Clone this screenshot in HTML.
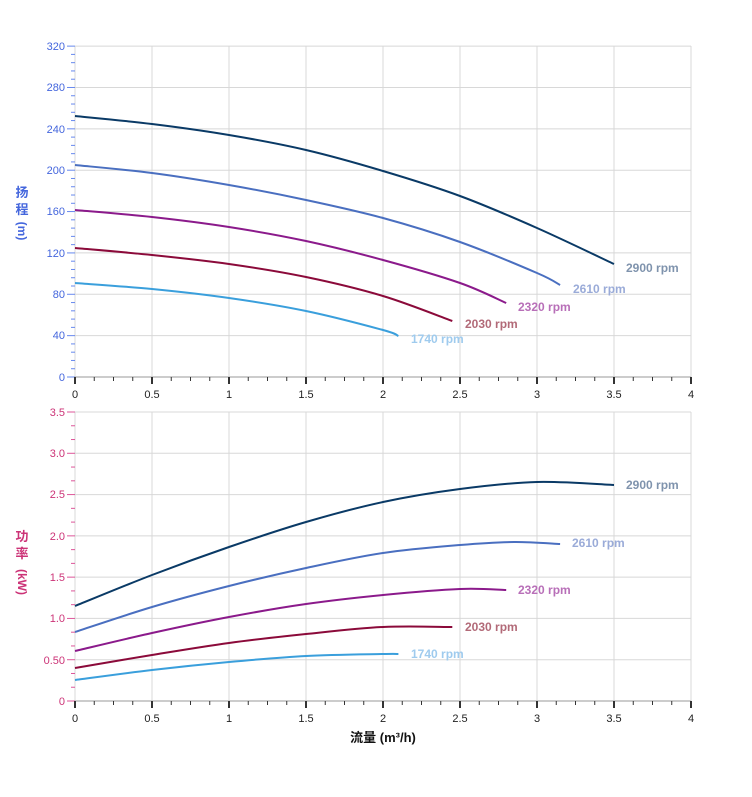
<!DOCTYPE html>
<html><head><meta charset="utf-8"><style>
body{margin:0;background:#fff}
svg{display:block;font-family:"Liberation Sans","Noto Sans CJK SC",sans-serif}
</style></head><body>
<svg id="s" width="752" height="797" viewBox="0 0 752 797" xmlns="http://www.w3.org/2000/svg">
<g id="grid" stroke="#d8d8d8" stroke-width="1"></g>
<g id="ticks"></g>
<g font-size="11" fill="#4466dd" text-anchor="end">
<text x="65" y="50">320</text><text x="65" y="91">280</text><text x="65" y="133">240</text><text x="65" y="174">200</text><text x="65" y="215">160</text><text x="65" y="257">120</text><text x="65" y="298">80</text><text x="65" y="339">40</text><text x="65" y="381">0</text>
</g>
<g font-size="11" fill="#cc3377" text-anchor="end">
<text x="65" y="416">3.5</text><text x="65" y="457">3.0</text><text x="65" y="498">2.5</text><text x="65" y="540">2.0</text><text x="65" y="581">1.5</text><text x="65" y="622">1.0</text><text x="65" y="664">0.50</text><text x="65" y="705">0</text>
</g>
<g font-size="11" fill="#222" text-anchor="middle">
<text x="75" y="398">0</text><text x="152" y="398">0.5</text><text x="229" y="398">1</text><text x="306" y="398">1.5</text><text x="383" y="398">2</text><text x="460" y="398">2.5</text><text x="537" y="398">3</text><text x="614" y="398">3.5</text><text x="691" y="398">4</text>
<text x="75" y="722">0</text><text x="152" y="722">0.5</text><text x="229" y="722">1</text><text x="306" y="722">1.5</text><text x="383" y="722">2</text><text x="460" y="722">2.5</text><text x="537" y="722">3</text><text x="614" y="722">3.5</text><text x="691" y="722">4</text>
</g>
<text x="383" y="742" font-size="13" font-weight="bold" fill="#111" text-anchor="middle">流量 (m³/h)</text>
<g font-size="13" font-weight="bold" fill="#4466dd" text-anchor="middle">
<text x="22" y="197">扬</text><text x="22" y="214">程</text>
<text transform="translate(18,231) rotate(90)" font-size="12" text-anchor="middle">(m)</text>
</g>
<g font-size="13" font-weight="bold" fill="#cc3377" text-anchor="middle">
<text x="22" y="541">功</text><text x="22" y="558">率</text>
<text transform="translate(18,582) rotate(90)" font-size="12" text-anchor="middle">(kW)</text>
</g>
<g fill="none" stroke-width="2" stroke-linejoin="round" stroke-linecap="round">
<path id="c1" stroke="#0a3a66" d=""/>
</g>
<g id="curves" fill="none" stroke-width="2"></g>
<g font-size="12" font-weight="bold">
<text x="626" y="272" fill="#7f93ad">2900 rpm</text>
<text x="573" y="293" fill="#9aabd8">2610 rpm</text>
<text x="518" y="311" fill="#b86fb8">2320 rpm</text>
<text x="465" y="328" fill="#b26a78">2030 rpm</text>
<text x="411" y="343" fill="#9fcbee">1740 rpm</text>
<text x="626" y="489" fill="#7f93ad">2900 rpm</text>
<text x="572" y="547" fill="#9aabd8">2610 rpm</text>
<text x="518" y="594" fill="#b86fb8">2320 rpm</text>
<text x="465" y="631" fill="#b26a78">2030 rpm</text>
<text x="411" y="658" fill="#9fcbee">1740 rpm</text>
</g>
</svg>
<script>
var NS="http://www.w3.org/2000/svg",g=document.getElementById('grid'),t=document.getElementById('ticks'),cv=document.getElementById('curves');
function L(p,x1,y1,x2,y2,c,w){var l=document.createElementNS(NS,'line');l.setAttribute('x1',x1);l.setAttribute('y1',y1);l.setAttribute('x2',x2);l.setAttribute('y2',y2);if(c)l.setAttribute('stroke',c);if(w)l.setAttribute('stroke-width',w);p.appendChild(l);}
function X(v){return 75+154*v}
for(var i=0;i<=8;i++){L(g,X(i/2),46,X(i/2),377);L(g,X(i/2),412,X(i/2),701);}
for(var i=0;i<=8;i++){var y=377-i*40*1.034;L(g,75,y,691,y);}
for(var i=0;i<=7;i++){var y=701-i*0.5*82.57;L(g,75,y,691,y);}
L(g,75,377,691,377,'#ccc',2);L(g,75,701,691,701,'#ccc',2);
for(var i=0;i<=40;i++){var y=377-i*8*1.034;L(t,i%5?71:67,y,75,y,'#6688ee',1);}
for(var i=0;i<=21;i++){var y=701-i*(0.5/3)*82.57;L(t,i%3?71:67,y,75,y,'#dd5599',1);}
for(var i=0;i<=32;i++){var x=X(i/8);L(t,x,377,x,i%4?381:384,'#333',i%4?1:2);L(t,x,701,x,i%4?705:708,'#333',i%4?1:2);}
function C(pts,col){var d='M'+X(pts[0][0])+','+pts[0][1];var p=pts.map(function(a){return [X(a[0]),a[1]]});
for(var i=0;i<p.length-1;i++){var p0=p[i-1]||p[i],p1=p[i],p2=p[i+1],p3=p[i+2]||p2;
d+=' C'+(p1[0]+(p2[0]-p0[0])/6)+','+(p1[1]+(p2[1]-p0[1])/6)+' '+(p2[0]-(p3[0]-p1[0])/6)+','+(p2[1]-(p3[1]-p1[1])/6)+' '+p2[0]+','+p2[1];}
var e=document.createElementNS(NS,'path');e.setAttribute('d',d);e.setAttribute('stroke',col);cv.appendChild(e);}
C([[0,116],[0.5,124],[1,135],[1.5,150],[2,171],[2.5,196],[3,228],[3.5,264]],'#0a3a66');
C([[0,165],[0.5,173],[1,185],[1.5,200],[2,218],[2.5,242],[3,273],[3.15,285]],'#4a6fc0');
C([[0,210],[0.5,217],[1,227],[1.5,241],[2,260],[2.5,283],[2.8,303]],'#8b1a8b');
C([[0,248],[0.5,255],[1,264],[1.5,277],[2,296],[2.45,321]],'#8b0a3a');
C([[0,283],[0.5,289],[1,298],[1.5,311],[2,330],[2.1,336]],'#3a9fdc');
C([[0,606],[0.5,575],[1,547],[1.5,522],[2,502],[2.5,489],[3,482],[3.5,485]],'#0a3a66');
C([[0,632],[0.5,607],[1,586],[1.5,568],[2,553],[2.5,545],[2.85,542],[3.15,544]],'#4a6fc0');
C([[0,651],[0.5,633],[1,617],[1.5,604],[2,595],[2.5,589],[2.8,590]],'#8b1a8b');
C([[0,668],[0.5,655],[1,643],[1.5,634],[2,627],[2.45,627]],'#8b0a3a');
C([[0,680],[0.5,670],[1,662],[1.5,656],[2,654],[2.1,654]],'#3a9fdc');
</script>
</body></html>
